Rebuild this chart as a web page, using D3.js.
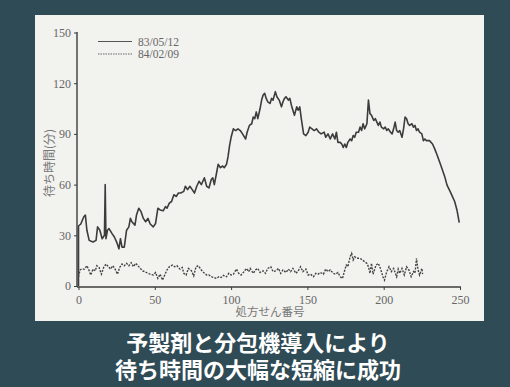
<!DOCTYPE html>
<html><head><meta charset="utf-8">
<script src="https://cdn.jsdelivr.net/npm/d3@7"></script>
<style>
html,body{margin:0;padding:0;background:#2f4b55;}
svg{display:block;}
</style></head>
<body>
<svg id="c" width="510" height="387"></svg>
<script>
// Series 83/05/12 (solid): prescription number, waiting time (min)
const solidX = [0,0,1.5,3.5,4.5,5.5,7,9.5,11.5,12.5,14,15.5,17,17.5,18,19,20,22,23.5,25,26.5,27.5,28.5,30,31.5,33,34,35,37,38,39.5,41,42.5,44,45.5,47,49,50.5,52,53.5,55.5,57,58,59.5,61,62.5,64,65.5,67,69,70,71.5,73,74.5,76,77.5,79,80.5,81.5,82.5,84,85.5,87,88,89,90.5,91.5,93,94.5,95.5,97,98,99,100,101.5,103,104.5,106,107.5,109.5,110.5,112,113.5,114.5,115.5,116.5,117.5,119,120,121,122,123,124,125.5,126.5,127.5,129,130,131.5,133,134,135,136,137.5,138.5,139.5,140.5,141.5,143,144,145,146,147.5,149,150.5,151.5,153,154.5,156,157.5,159,161,162,163.5,165,166.5,168,169,170,171.5,172.5,173.5,174.5,175.5,176.5,178,179,180,181,182,183.5,184.5,185.5,186.5,187.5,189,190,191,192,193.5,194.5,195.5,196.5,197.5,198.5,200,201,202,203,204.5,205.5,206.5,207.5,208.5,209.5,210.5,212,213,214,215,216,217,218.5,219.5,220.5,221.5,222.5,223.5,225,226,227,228,230,232,233.5,235,237,238.5,240,241.5,243.5,245,246.5,248,249.5];
const solidY = [0,35.5,36.7,41,42,33,27,26,27,35,33,28,30,60,28,33,34,31,29,26,22,28,23,23,33,35,40,38,36,42,46,44,40,38,40,36.7,35,37,46,45,44.5,47,46,49,50,54,53,55,55,56,59,57,59,57,55,59,62,60,62,64,59,58,63,64,60,67,72,70,71,70,72,76.5,83,88,93,92,93,92,90,87,91,95,96,100,99,103,99,105,110,113,114,111,109,108,111,110,115,112,110,106,109,111,112,110,111,107,104,101,106,104,106,99,90,89,91,94,93,92,93,91,90,91,88,90,87,90,87,91,85,85,84,82,84,82,85,87,86,89,88,91,91,94,92,96,93,96,110,102,101,98,99,97,95,97,94,93,94,92,93,91,90,93,97,92,91,92,88,93,100,99,96,95,96,94,95,92,93,91,90,86,87,86,86,84,81,77.5,72.5,68.6,64.7,59.7,56,53,50,45,37.5];
// Series 84/02/09 (dotted)
const dotX = [0,1,2,4,5.5,7,8,9.5,11,12,13.5,15,16.5,18,19,21,22.5,24,25.5,27,28.5,30,31.5,33,34.5,36,37.5,39,40.5,42,43.5,45.5,47,49,50.5,52,53.5,55,56.5,58,59.5,61.5,63,64.5,66.5,68,69,70.5,72,74,75.5,77,78.5,80.5,82,84,85.5,87,88.5,90.5,92,93.5,95,97,98.5,100,101.5,103.5,105,106.5,108.5,110,111.5,112.5,114.5,116,117.5,119,121,122.5,124,126,127.5,129.5,131,132.5,134,136,137.5,139,140.5,142.5,144,145.5,147,149,150.5,152,154,155.5,157,158.5,160.5,162,163.5,165,167,168.5,170,171.5,173,174.5,175.5,176.5,178,179,180,181,182.5,184.5,186,187.5,189,190,191,192,193,195,196.5,198,199.5,200.5,202,203.5,205,206.5,208.5,209.5,210.5,212,213.5,215,216.5,218,219.5,220.5,221.5,222.5,223.5,225,225.5];
const dotY = [5.5,9.5,10,10,12,9,6.5,10,9,12,11,7,11,13,12,10,12,10,7,11,13,12,13.4,12,13.8,11.4,13.4,12,10.4,9,8.5,7.5,7,6.5,8,4.5,7,3.5,6.5,9.5,11.4,12.4,11.4,12,10,11,7.5,6.5,10.4,9,6,11.4,12,9.5,8,6.5,6.5,5.5,5,4.5,5.5,5,6.3,5.5,7.5,6.5,7,10,7.5,6.5,8.5,10.4,8.5,10.4,7.5,9.5,10.4,8,9,7.5,10.4,11.4,8.5,9,10.4,7.5,9.5,8,10,8.5,10.4,7.5,9,11.4,8.5,10,6.5,7,5.5,7.5,7,8,7,10,8.5,9.5,7.5,7,8,5.5,4.5,9.5,12.4,11.4,17.3,19.3,15.4,17.3,16.4,16.4,15.4,14.4,13.4,11.4,7.5,13.4,7,12.4,13.4,10,5.5,3.5,8.5,11.4,8.5,10.4,5.5,10,7.5,10.4,6.5,11.4,9.5,5.5,8.5,7.5,16.4,9.5,6.5,10.4,7];
const xTicks = [0,50,100,150,200,250];
const yTicks = [0,30,60,90,120,150];
const legendLabels = ["83/05/12","84/02/09"];
const xTitle = "処方せん番号";
const yTitle = "待ち時間(分)";
const captionLines = ["予製剤と分包機導入により","待ち時間の大幅な短縮に成功"];

const svg = d3.select("#c");
// paper
svg.append("rect").attr("x",35).attr("y",15).attr("width",449).attr("height",306).attr("fill","#f2f2ef");

const x = d3.scaleLinear().domain([0,250]).range([78.5,460]);
const y = d3.scaleLinear().domain([0,150]).range([286,32.5]);
const ink = "#3c3c3c";
const serif = "'Liberation Serif','DejaVu Serif',serif";

const ya = svg.append("g").attr("transform","translate(77,0)")
  .call(d3.axisLeft(y).tickValues(yTicks).tickSize(3).tickSizeOuter(0));
const xa = svg.append("g").attr("transform","translate(0,287)")
  .call(d3.axisBottom(x).tickValues(xTicks).tickSize(3).tickSizeOuter(0));
[ya,xa].forEach(g=>{
  g.select(".domain").attr("stroke",ink).attr("stroke-width",1.4);
  g.selectAll(".tick line").attr("stroke",ink).attr("stroke-width",1);
  g.selectAll("text").attr("fill","#666").attr("font-family",serif).attr("font-size",12);
});
ya.select(".domain").attr("d","M0,287V32");
xa.select(".domain").attr("d","M77,0H461");
xa.selectAll("text").attr("dy","0.9em");

const line = d3.line().x(d=>x(d[0])).y(d=>y(d[1]));
svg.append("path").datum(solidX.map((v,i)=>[v,solidY[i]]))
  .attr("d",line).attr("fill","none").attr("stroke",ink).attr("stroke-width",1.6).attr("stroke-linejoin","round");
svg.append("path").datum(dotX.map((v,i)=>[v,dotY[i]]))
  .attr("d",line).attr("fill","none").attr("stroke","#444").attr("stroke-width",1.4).attr("stroke-dasharray","2,1.3");

// legend
const lg = svg.append("g");
lg.append("line").attr("x1",98).attr("x2",132).attr("y1",41.5).attr("y2",41.5).attr("stroke","#555").attr("stroke-width",1);
lg.append("line").attr("x1",98).attr("x2",132).attr("y1",54).attr("y2",54).attr("stroke","#666").attr("stroke-width",1).attr("stroke-dasharray","1.5,1");
legendLabels.forEach((t,i)=>lg.append("text").attr("x",138).attr("y",45.5+i*12.5).text(t)
  .attr("fill","#666").attr("font-family",serif).attr("font-size",11.5));

// titles
svg.append("text").attr("x",270).attr("y",316).attr("text-anchor","middle").text(xTitle)
  .attr("fill","#777").attr("font-family","'Noto Sans CJK JP'").attr("font-size",11.5);
svg.append("text").attr("transform","translate(48,163) rotate(-90)").attr("text-anchor","middle")
  .attr("dominant-baseline","central").text(yTitle)
  .attr("fill","#777").attr("font-family","'Noto Sans CJK JP'").attr("font-size",12);

// caption (one text block, two lines)
const cap = svg.append("text").attr("text-anchor","middle").attr("fill","#ffffff")
  .attr("font-family","'Noto Sans CJK JP'").attr("font-weight","bold").attr("font-size",22);
captionLines.forEach((t,i)=>cap.append("tspan").attr("x",258).attr("y",351+i*27).text(t));
</script>
</body></html>
